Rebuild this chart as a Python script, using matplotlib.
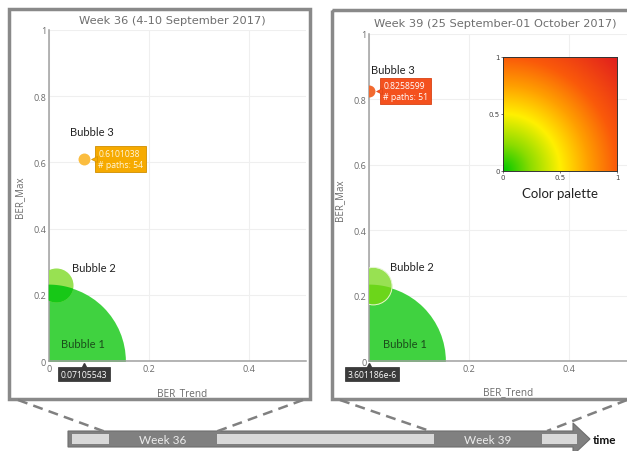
import numpy as np
import matplotlib
matplotlib.use("Agg")
import matplotlib.pyplot as plt
from matplotlib.colors import LinearSegmentedColormap
from matplotlib.patches import Rectangle, Polygon
from matplotlib.path import Path
import matplotlib.transforms as mtransforms

# ---------------- data ----------------
week_numbers = [36, 39]
titles = ["Week 36 (4-10 September 2017)", "Week 39 (25 September-01 October 2017)"]
bubble_names = ["Bubble 1", "Bubble 2", "Bubble 3"]
ber_trend = [[0.0, 0.015, 0.07105543], [0.0, 0.008, 3.601186e-6]]
ber_max = [[0.0, 0.23, 0.6101038], [0.0, 0.229, 0.8258599]]
bubble_diam_pt = [[110, 24.5, 8.6], [110, 27.0, 8.6]]
bubble3_paths = [54, 51]
x_ticks = [0, 0.2, 0.4]
y_ticks = [0, 0.2, 0.4, 0.6, 0.8, 1]
palette_ticks = [0, 0.5, 1]

# ---------------- style ----------------
W, H = 627, 452
DPI = 100
fig = plt.figure(figsize=(W / DPI, H / DPI), dpi=DPI)
fig.patch.set_facecolor("white")

def px_rect(x0, y0, x1, y1):
    return [x0 / W, 1 - y1 / H, (x1 - x0) / W, (y1 - y0) / H]

def fx(x):
    return x / W

def fy(y):
    return 1 - y / H

def fmt_num(v):
    s = f"{v:.7g}"
    return s.replace("e-0", "e-").replace("e+0", "e+")

PX_PER_UNIT = 500.0
panel_px = [(48.7, 31, 306, 362), (369.3, 35, 640, 362)]
bubble_colors = [["#40d240", "#98e152", "#fbbd3f"], ["#40d240", "#98e152", "#f26a30"]]
overlap_colors = ["#17c817", "#6cd61a"]
b2_edge = [None, "#e4f5d0"]
tip_face = ["#f6aa00", "#f4511e"]
tip_edge = ["#d08e00", "#d84315"]
tip_text = ["#fff6dc", "#ffffff"]
label_offsets = [[(34, -17), (38, -17), (7.5, -28)], [(36, -17), (39, -20), (24, -21)]]
label_colors = ["#1b4d1b", "#222222", "#222222"]
title_pos = [(172, 20.5), (495, 24)]
ylabel_pos = [(20, 197), (340, 200)]
xlabel_pos = [(182, 394), (508, 393)]
hide_x0_label = [False, True]   # covered by the hover label in the reference

gray_txt = "#6b6b6b"
tick_font = "Open Sans"

for p in range(2):
    x0, y0, x1, y1 = panel_px[p]
    ax = fig.add_axes(px_rect(x0, y0, x1, y1), zorder=1)
    ax.set_xlim(0, (x1 - x0) / PX_PER_UNIT)
    ax.set_ylim(0, 1)
    ax.set_facecolor("none")
    for s in ["top", "right"]:
        ax.spines[s].set_visible(False)
    for s in ["left", "bottom"]:
        ax.spines[s].set_color("#a0a0a0")
        ax.spines[s].set_linewidth(1.1)
    ax.set_xticks(x_ticks)
    ax.set_yticks(y_ticks)
    xl = [f"{t:g}" for t in x_ticks]
    if hide_x0_label[p]:
        xl[0] = ""
    ax.set_xticklabels(xl, fontfamily=tick_font)
    ax.set_yticklabels([f"{t:g}" for t in y_ticks], fontfamily=tick_font)
    ax.tick_params(length=0, labelsize=6.5, labelcolor=gray_txt, pad=2)
    ax.grid(True, color="#efefef", lw=0.8)
    ax.set_axisbelow(True)

    xs, ys, ds = ber_trend[p], ber_max[p], bubble_diam_pt[p]
    sizes = [d ** 2 for d in ds]
    # bubble 1
    ax.scatter([xs[0]], [ys[0]], s=sizes[0], c=bubble_colors[p][0], linewidths=0, zorder=2)
    # bubble 2
    ax.scatter([xs[1]], [ys[1]], s=sizes[1], c=bubble_colors[p][1], linewidths=0, zorder=3)
    # overlap of bubble 2 with bubble 1 (bubble 2 redrawn, clipped to visible bubble 1)
    ov = ax.scatter([xs[1]], [ys[1]], s=sizes[1], c=overlap_colors[p], linewidths=0, zorder=4)
    cx, cy = ax.transData.transform((xs[0], ys[0]))
    r_px = ds[0] / 2 * DPI / 72
    th = np.linspace(0, 2 * np.pi, 361)
    circ = Path(np.column_stack([cx + r_px * np.cos(th), cy + r_px * np.sin(th)]), closed=True)
    clipped = circ.clip_to_bbox(ax.bbox, inside=True)
    ov.set_clip_path(clipped, mtransforms.IdentityTransform())
    if b2_edge[p]:
        ax.scatter([xs[1]], [ys[1]], s=sizes[1], facecolors="none",
                   edgecolors=b2_edge[p], linewidths=0.7, zorder=5)
    # bubble 3
    ax.scatter([xs[2]], [ys[2]], s=sizes[2], c=bubble_colors[p][2], linewidths=0, zorder=5)

    # bubble labels
    for i, name in enumerate(bubble_names):
        dx, dy = label_offsets[p][i]
        ax.annotate(name, (xs[i], ys[i]), xytext=(dx, -dy), textcoords="offset pixels",
                    ha="center", va="center", fontsize=8, fontfamily="Lato",
                    color=label_colors[i], zorder=6, annotation_clip=False)

    # hover tooltip of bubble 3
    ax.annotate(f"{fmt_num(ys[2])}\n# paths: {bubble3_paths[p]}", (xs[2], ys[2]),
                xytext=(14, 0), textcoords="offset pixels", ha="left", va="center",
                fontsize=6.2, fontfamily=tick_font, color=tip_text[p], linespacing=1.3,
                bbox=dict(boxstyle="square,pad=0.35", fc=tip_face[p], ec=tip_edge[p], lw=0.6),
                zorder=7, annotation_clip=False)
    tri_tr = mtransforms.offset_copy(ax.transData, fig=fig, x=9.5, y=0, units="dots")
    ax.plot([xs[2]], [ys[2]], marker="<", ms=4.5, color=tip_face[p], mec=tip_edge[p],
            mew=0.4, transform=tri_tr, clip_on=False, zorder=7)

    # x-axis hover label
    ax.annotate(fmt_num(xs[2]), (xs[2], 0), xytext=(0 if p == 0 else 3, -13),
                textcoords="offset pixels", ha="center", va="center",
                fontsize=6.2, fontfamily=tick_font, color="white",
                bbox=dict(boxstyle="square,pad=0.3", fc="#3a3a3a", ec="#2a2a2a", lw=0.5),
                zorder=7, annotation_clip=False)
    tri2 = mtransforms.offset_copy(ax.transData, fig=fig, x=0, y=-5, units="dots")
    ax.plot([xs[2]], [0], marker="^", ms=4, color="#3a3a3a", transform=tri2,
            clip_on=False, zorder=7)

    # titles and axis labels
    fig.text(fx(title_pos[p][0]), fy(title_pos[p][1]), titles[p], ha="center", va="center",
             fontsize=8.2, color="#6e6e6e", fontfamily="DejaVu Sans")
    fig.text(fx(ylabel_pos[p][0]), fy(ylabel_pos[p][1]), "BER_Max", ha="center", va="center",
             rotation=90, fontsize=7, color=gray_txt, fontfamily=tick_font)
    fig.text(fx(xlabel_pos[p][0]), fy(xlabel_pos[p][1]), "BER_Trend", ha="center", va="center",
             fontsize=7.2, color=gray_txt, fontfamily=tick_font)

# ---------------- color palette inset ----------------
axc = fig.add_axes(px_rect(503, 58, 617, 172), zorder=2)
pal_cmap = LinearSegmentedColormap.from_list(
    "pal", [(0.0, "#00c800"), (0.17, "#8cdc00"), (0.354, "#fff000"),
            (0.53, "#ffa000"), (0.707, "#fa5a0a"), (1.0, "#e01e1e")])
g = np.linspace(0, 1, 300)
GX, GY = np.meshgrid(g, g)
R = np.sqrt(GX ** 2 + GY ** 2) / np.sqrt(2)
axc.imshow(R, origin="lower", extent=[0, 1, 0, 1], cmap=pal_cmap, vmin=0, vmax=1,
           aspect="auto", interpolation="bilinear")
axc.set_xticks(palette_ticks)
axc.set_yticks(palette_ticks)
axc.set_xticklabels([f"{t:g}" for t in palette_ticks])
axc.set_yticklabels([f"{t:g}" for t in palette_ticks])
axc.tick_params(length=1.5, width=0.5, labelsize=5, labelcolor="#444444", pad=1, color="#444444")
for s in axc.spines.values():
    s.set_color("#333333")
    s.set_linewidth(0.7)
fig.text(fx(560), fy(194), "Color palette", ha="center", va="center", fontsize=9.5,
         fontfamily="Lato", color="#222222")

# ---------------- decorations: frames and timeline ----------------
ov_ax = fig.add_axes([0, 0, 1, 1], zorder=5)
ov_ax.set_xlim(0, W)
ov_ax.set_ylim(H, 0)
ov_ax.axis("off")
ov_ax.patch.set_visible(False)

frame_col = "#898989"
frames = [(8.5, 9.5, 310, 400), (332, 10.5, 660, 399.5)]
for (a, b, c, d) in frames:
    ov_ax.add_patch(Rectangle((a, b), c - a, d - b, fill=False, ec=frame_col, lw=2.5,
                              clip_on=False))

# timeline: one week = 108.3 px, week 36 centred at x=163
WEEK_PX = 108.3
def week_x(w):
    return 163 + (w - 36) * WEEK_PX

body_top, body_bot, mid = 432, 448, 440
x_start, x_head = 68, 573
arrow = Polygon([(x_start, body_top), (x_head, body_top), (x_head, 424), (590, mid),
                 (x_head, 456), (x_head, body_bot), (x_start, body_bot)],
                closed=True, fc="#808080", ec="#6e6e6e", lw=0.8)
ov_ax.add_patch(arrow)
light = "#d9d9d9"
seg_edges = [(week_x(w) - WEEK_PX / 2, week_x(w) + WEEK_PX / 2) for w in week_numbers]
light_spans = [(72, seg_edges[0][0]), (seg_edges[0][1], seg_edges[1][0]), (seg_edges[1][1], 577)]
for (a, b) in light_spans:
    ov_ax.add_patch(Rectangle((a, 435), b - a, 10, fc=light, ec="none"))
for w, (a, b) in zip(week_numbers, seg_edges):
    ov_ax.text((a + b) / 2, mid + 0.5, f"Week {w}", ha="center", va="center", fontsize=8.5,
               fontfamily="Lato", color="#ececec")
ov_ax.text(605, 441, "time", ha="center", va="center", fontsize=8.5, fontweight="bold",
           fontfamily="Lato", color="#111111")

# dashed zoom lines from frames to week segments
dash_kw = dict(color="#808080", lw=1.8, ls=(0, (4, 2.5)), solid_capstyle="butt")
ov_ax.plot([18, seg_edges[0][0] - 3], [401, 433], **dash_kw)
ov_ax.plot([303, seg_edges[0][1] - 2], [401, 433], **dash_kw)
ov_ax.plot([340, seg_edges[1][0] - 1], [401, 433], **dash_kw)
ov_ax.plot([627, seg_edges[1][1] + 5], [401, 432], **dash_kw)

fig.savefig("out.png", dpi=DPI, facecolor="white")
